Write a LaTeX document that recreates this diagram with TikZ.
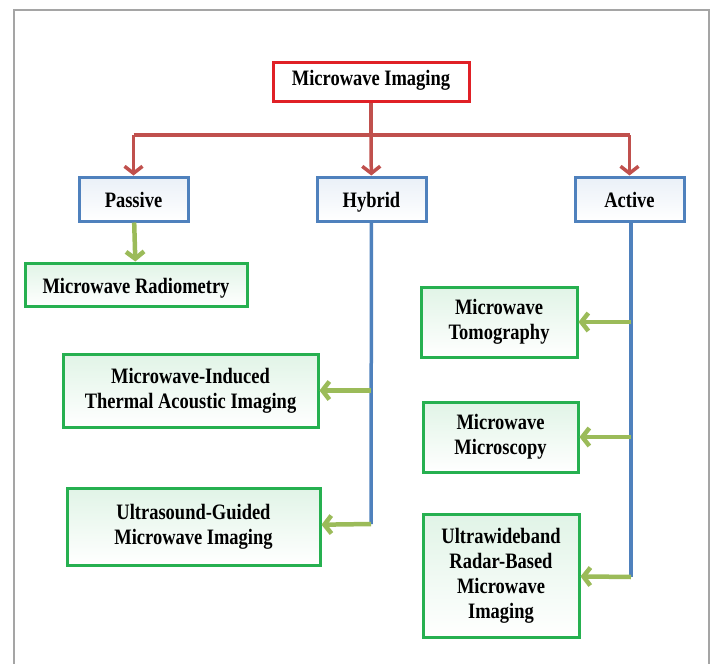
\documentclass[tikz,border=0pt]{standalone}
\usepackage{fontspec}
\setmainfont{Liberation Serif}[FakeStretch=0.84]
\usetikzlibrary{arrows.meta}
\definecolor{linered}{RGB}{192,80,77}
\definecolor{boxred}{RGB}{224,32,38}
\definecolor{lineblue}{RGB}{79,129,189}
\definecolor{linegreen}{RGB}{155,187,89}
\definecolor{boxgreen}{RGB}{38,176,80}
\definecolor{framegray}{RGB}{165,165,165}

\begin{document}
\begin{tikzpicture}[x=1pt,y=-1pt,
font=\fontsize{22}{25}\selectfont\bfseries,
topbox/.style={draw=boxred,line width=3pt,fill=white,inner sep=0pt,
  minimum width=196pt,minimum height=39pt,text height=15pt,text depth=8pt},
kindbox/.style={draw=lineblue,line width=3pt,top color=lineblue!12,bottom color=white,
  inner sep=0pt,minimum width=109pt,minimum height=44pt,text height=18pt,text depth=2pt},
leafbox/.style={draw=boxgreen,line width=3pt,top color=boxgreen!14,bottom color=white,
  inner sep=0pt,align=center},
redline/.style={draw=linered,line width=3.5pt},
blueline/.style={draw=lineblue,line width=3.5pt},
greenarrow/.style={draw=linegreen,line width=4.5pt,-{Straight Barb[length=7pt,width=18pt]}},
redarrow/.style={redline,-{Straight Barb[length=7pt,width=18pt]}}]
\useasboundingbox (0,0) rectangle (713,664);
\draw[framegray,line width=2pt] (14,666) -- (14,10) -- (709,10) -- (709,666);

\node (mwi) at (371,81.5) [topbox] {Microwave Imaging};
\node (passive) at (133.5,199) [kindbox] {Passive};
\node (hybrid) at (371.5,199) [kindbox] {Hybrid};
\node (active) at (629.5,199) [kindbox] {Active};

\node (radio) at (136,284.5) [leafbox,minimum width=222pt,minimum height=43pt,text height=18pt,text depth=0pt] {Microwave Radiometry};
\node (mita) at (190.5,390.5) [leafbox,minimum width=255pt,minimum height=73pt] {Microwave-Induced\\Thermal Acoustic Imaging};
\node (usg) at (193.5,526.5) [leafbox,minimum width=253pt,minimum height=77pt] {Ultrasound-Guided\\Microwave Imaging};
\node (tomo) at (499,322) [leafbox,minimum width=156pt,minimum height=70pt] {Microwave\\Tomography};
\node (micro) at (500.5,437) [leafbox,minimum width=155pt,minimum height=70pt] {Microwave\\Microscopy};
\node (uwb) at (501,575.5) [leafbox,minimum width=156pt,minimum height=123pt] {Ultrawideband\\Radar-Based\\Microwave\\Imaging};

\coordinate (hub) at (371,135);
\coordinate (hubl) at (133.5,135);
\coordinate (hubr) at (629.5,135);
\coordinate (hy1) at (371,390.5);
\coordinate (hy2) at (371,524);
\coordinate (ac1) at (631,322);
\coordinate (ac2) at (631,437);
\coordinate (ac3) at (631,577);

\draw[redline] (mwi) -- (hub);
\draw[redline] (hubl) -- (hubr);
\draw[redarrow] (hubl) -- (passive);
\draw[redarrow] (hub) -- (hybrid);
\draw[redarrow] (hubr) -- (active);

\draw[greenarrow] (passive) -- (radio);

\draw[blueline] (hybrid) -- (hy2);
\draw[greenarrow] (hy1) -- (mita);
\draw[greenarrow] (hy2) -- (usg);

\draw[blueline] (active.south -| ac1) -- (ac3);
\draw[greenarrow] (ac1) -- (tomo);
\draw[greenarrow] (ac2) -- (micro);
\draw[greenarrow] (ac3) -- (uwb);

\end{tikzpicture}
\end{document}
